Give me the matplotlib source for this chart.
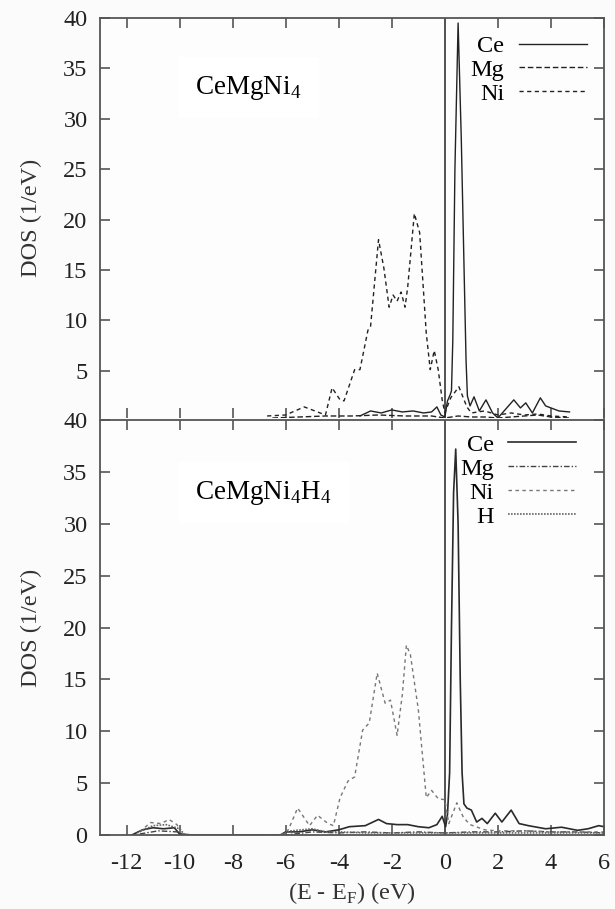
import matplotlib
matplotlib.use("Agg")
import matplotlib.pyplot as plt
import numpy as np

plt.rcParams['font.family'] = ['Liberation Serif', 'DejaVu Serif']
plt.rcParams['mathtext.fontset'] = 'custom'
plt.rcParams['mathtext.rm'] = 'Liberation Serif'

# ---- CeMgNi4 (top panel) ----
top_ce_x = [-3.2, -2.8, -2.4, -2.0, -1.6, -1.2, -0.8, -0.5, -0.3, -0.15, 0.0, 0.1, 0.2, 0.25, 0.3, 0.38, 0.5, 0.62, 0.75,
            0.8, 0.85, 0.95, 1.1, 1.3, 1.55, 1.8, 2.0, 2.3, 2.6, 2.85, 3.05, 3.3, 3.6, 3.8, 4.0, 4.3, 4.7]
top_ce_y = [0.5, 1.0, 0.8, 1.1, 0.9, 1.0, 0.8, 0.9, 1.4, 0.6, 0.4, 2.0, 2.6, 3.0, 8.0, 25.0, 39.5, 28.0, 12.0,
            6.0, 2.5, 1.5, 2.4, 1.0, 2.1, 0.8, 0.3, 1.2, 2.1, 1.3, 1.8, 0.8, 2.3, 1.5, 1.3, 1.0, 0.9]

top_mg_x = [-6.5, -5.5, -4.5, -3.5, -2.5, -1.5, -0.5, 0.0, 0.5, 1.0, 1.5, 2.0, 2.5, 3.0, 3.5, 4.0, 4.7]
top_mg_y = [0.3, 0.4, 0.5, 0.5, 0.6, 0.5, 0.5, 0.3, 0.5, 0.4, 0.4, 0.3, 0.4, 0.5, 0.6, 0.4, 0.3]

top_ni_x = [-6.7, -6.0, -5.3, -4.5, -4.25, -3.95, -3.8, -3.4, -3.2, -2.9, -2.8, -2.5, -2.3, -2.1, -1.95, -1.8, -1.65,
            -1.5, -1.4, -1.15, -0.95, -0.7, -0.55, -0.4, -0.25, -0.1, 0.0, 0.22, 0.53, 0.83, 1.0, 1.5, 2.0, 2.5, 3.0,
            3.5, 4.0, 4.7]
top_ni_y = [0.5, 0.6, 1.4, 0.6, 3.3, 2.1, 2.0, 5.1, 5.1, 9.0, 9.4, 18.0, 15.2, 11.3, 12.5, 11.9, 12.8,
            11.3, 13.3, 20.6, 18.7, 8.7, 5.1, 7.0, 5.1, 2.1, 0.8, 2.3, 3.4, 1.4, 0.8, 1.0, 0.6, 0.8, 0.6,
            0.7, 0.5, 0.4]

# ---- CeMgNi4H4 (bottom panel) ----
bot_ce_x = [-11.8, -11.4, -11.0, -10.6, -10.2, -10.0, -9.5, -6.2, -6.0, -5.5, -5.0, -4.5, -4.0, -3.6, -3.0, -2.5, -2.2,
            -1.8, -1.4, -1.0, -0.6, -0.3, -0.1, 0.03, 0.1, 0.18, 0.25, 0.33, 0.41, 0.5, 0.58, 0.65, 0.72, 0.83,
            1.0, 1.2, 1.4, 1.6, 1.9, 2.15, 2.5, 2.8, 3.15, 3.8, 4.4, 5.0, 5.4, 5.8, 6.0]
bot_ce_y = [0.0, 0.5, 0.7, 0.6, 0.7, 0.1, 0.0, 0.0, 0.3, 0.3, 0.5, 0.3, 0.5, 0.8, 0.9, 1.5, 1.1,
            1.0, 1.0, 0.8, 0.7, 1.0, 1.8, 0.8, 2.0, 6.0, 20.0, 33.0, 37.2, 30.0, 15.0, 6.0, 3.0, 2.6,
            2.4, 1.25, 1.6, 1.1, 2.1, 1.25, 2.4, 1.1, 0.9, 0.6, 0.75, 0.45, 0.6, 0.9, 0.8]

bot_mg_x = [-11.5, -10.8, -10.1, -9.8, -6.0, -5.0, -4.0, -3.0, -2.0, -1.0, 0.0, 1.0, 2.0, 3.0, 4.0, 5.0, 6.0]
bot_mg_y = [0.1, 0.4, 0.3, 0.0, 0.0, 0.3, 0.2, 0.3, 0.2, 0.3, 0.2, 0.3, 0.3, 0.4, 0.3, 0.3, 0.2]

bot_ni_x = [-11.5, -11.1, -10.7, -10.4, -10.1, -9.9, -6.2, -5.9, -5.55, -5.1, -4.8, -4.4, -4.2, -3.95, -3.65, -3.4,
            -3.1, -2.85, -2.55, -2.25, -2.05, -1.8, -1.6, -1.45, -1.3, -1.0, -0.7, -0.5, -0.25, 0.0, 0.15, 0.45, 0.7,
            0.95, 1.5, 2.0, 3.0, 4.0, 5.0, 6.0]
bot_ni_y = [0.3, 1.2, 1.1, 1.5, 1.0, 0.0, 0.0, 0.5, 2.6, 0.9, 1.9, 1.1, 0.9, 3.6, 5.2, 5.6,
            10.1, 10.8, 15.6, 12.7, 13.0, 9.6, 13.6, 18.3, 17.4, 12.1, 3.6, 4.3, 3.5, 3.4, 1.1, 3.1, 1.7,
            1.0, 0.5, 0.4, 0.4, 0.3, 0.3, 0.3]

bot_h_x = [-11.6, -11.0, -10.5, -10.0, -9.8, -6.2, -5.8, -5.0, -4.5, -4.0, -3.0, -2.0, -1.0, 0.0, 1.0, 2.0, 3.0, 4.0, 5.0, 6.0]
bot_h_y = [0.2, 0.9, 1.0, 0.6, 0.0, 0.0, 0.4, 0.6, 0.3, 0.3, 0.2, 0.2, 0.2, 0.2, 0.2, 0.2, 0.2, 0.2, 0.2, 0.2]

xticks = [-12, -10, -8, -6, -4, -2, 0, 2, 4, 6]
xtick_labels = ['-12', '-10', '-8', '-6', '-4', '-2', '0', '2', '4', '6']
yticks = [0, 5, 10, 15, 20, 25, 30, 35, 40]

fig = plt.figure(figsize=(6.15, 9.09), dpi=100, facecolor='#fbfbfb')
W, H = 615, 909
left, right = 100 / W, 604 / W
ax1 = fig.add_axes([left, 1 - 418 / H, right - left, (418 - 18) / H])
ax2 = fig.add_axes([left, 1 - 835 / H, right - left, (835 - 420) / H])

fs = 17.5
spine_c = '#555555'
for ax in (ax1, ax2):
    ax.set_facecolor('#fdfdfd')
    ax.set_xlim(-13, 6)
    ax.set_xticks(xticks)
    ax.set_xticklabels(xtick_labels)
    ax.set_yticks(yticks)
    ax.tick_params(direction='in', top=True, right=True, length=7, width=1.2,
                   color=spine_c, labelsize=fs, labelcolor='#222222', pad=9)
    ax.tick_params(axis='x', pad=13)
    for s in ax.spines.values():
        s.set_color(spine_c)
        s.set_linewidth(1.3)
    ax.axvline(0, color='#444444', lw=1.3, zorder=1)
    ax.set_ylabel('DOS (1/eV)', fontsize=fs, color='#333333', labelpad=15)

ax1.set_ylim(0.3, 40)
ax1.tick_params(labelbottom=False)
ax1.spines['bottom'].set_visible(False)
ax1.plot(top_ce_x, top_ce_y, color='#222222', lw=1.0, label='Ce')
ax1.plot(top_mg_x, top_mg_y, color='#222222', lw=1.0, ls=(0, (4, 2)), label='Mg')
ax1.plot(top_ni_x, top_ni_y, color='#222222', lw=1.0, ls=(0, (3, 2.5)), label='Ni')
ax1.text(-9.4, 33.1, 'CeMgNi$_4$', fontsize=19.5, va='center', ha='left',
         bbox=dict(facecolor='white', edgecolor='none', pad=12))
ax1.legend(loc='upper right', bbox_to_anchor=(1.0, 1.0), frameon=False, markerfirst=False,
           fontsize=fs, handlelength=2.8, handletextpad=0.6, labelspacing=0.08, borderaxespad=0.3)

ax2.set_ylim(0, 40)
ax2.plot(bot_ce_x, bot_ce_y, color='#2a2a2a', lw=1.2, label='Ce')
ax2.plot(bot_mg_x, bot_mg_y, color='#444444', lw=1.0, ls=(0, (4, 1.5, 1, 1.5)), label='Mg')
ax2.plot(bot_ni_x, bot_ni_y, color='#777777', lw=1.0, ls=(0, (2.5, 2.5)), label='Ni')
ax2.plot(bot_h_x, bot_h_y, color='#666666', lw=1.2, ls=(0, (1, 0.8)), label='H')
ax2.text(-9.4, 33.0, 'CeMgNi$_4$H$_4$', fontsize=19.5, va='center', ha='left',
         bbox=dict(facecolor='white', edgecolor='none', pad=12))
ax2.legend(loc='upper right', bbox_to_anchor=(0.979, 1.008), frameon=False, markerfirst=False,
           fontsize=fs, handlelength=2.8, handletextpad=0.6, labelspacing=0.08, borderaxespad=0.3)
ax2.set_xlabel('(E - E$_{\\mathrm{F}}$) (eV)', fontsize=fs, color='#333333', labelpad=4)

fig.savefig('out.png', dpi=100, facecolor=fig.get_facecolor())
